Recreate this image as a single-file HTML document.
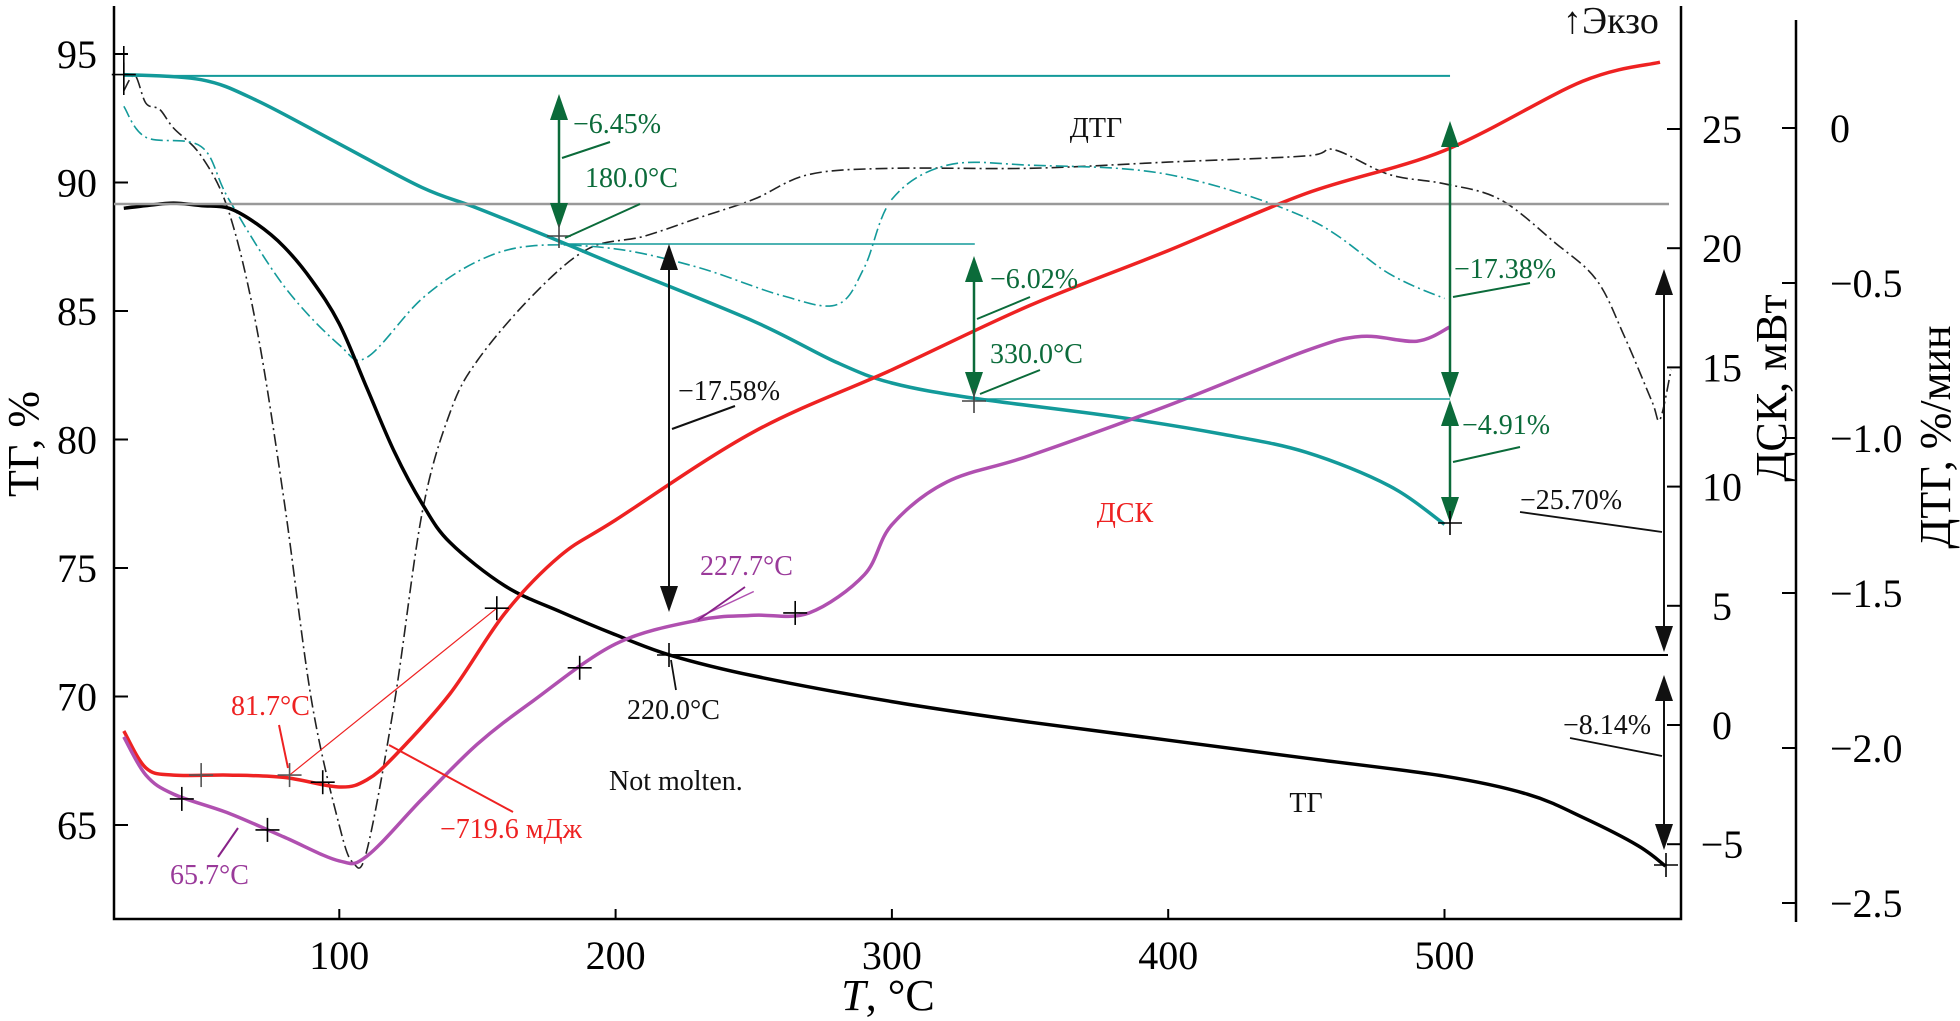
<!DOCTYPE html>
<html><head><meta charset="utf-8">
<style>
html,body{margin:0;padding:0;background:#fff;width:1960px;height:1021px;overflow:hidden}
svg text{font-family:"Liberation Serif","DejaVu Serif",serif}
</style></head>
<body>
<svg id="chart" width="1960" height="1021" viewBox="0 0 1960 1021" xmlns="http://www.w3.org/2000/svg">
<g id="axes"></g>
<g id="marks"></g>
<g id="ann"></g>
</svg>
<script>
// ---- data ----
const xTicks = [100,200,300,400,500];
const tgTicks = [95,90,85,80,75,70,65];
const dscTicks = [25,20,15,10,5,0,-5];
const dtgTicks = [0,-0.5,-1.0,-1.5,-2.0,-2.5];
const dtgTickLabels = ["0","−0.5","−1.0","−1.5","−2.0","−2.5"];
const dscTickLabels = ["25","20","15","10","5","0","−5"];

const tgBlackT = [22,30,40,50,60,70,80,90,100,110,120,130,140,160,180,200,220,250,300,350,400,450,500,530,550,570,580];
const tgBlackV = [89.0,89.1,89.2,89.1,89.0,88.4,87.5,86.2,84.5,82.0,79.5,77.5,76.0,74.3,73.3,72.4,71.6,70.8,69.8,69.0,68.3,67.6,66.9,66.2,65.3,64.2,63.4];

const tgTealT = [22,50,70,100,130,150,180,200,250,280,300,330,380,420,450,480,500];
const tgTealV = [94.2,94.0,93.2,91.5,89.8,89.0,87.7,86.8,84.6,83.0,82.2,81.6,80.9,80.2,79.5,78.2,76.7];

const dtgBlackT = [22,26,30,35,40,50,60,70,80,90,100,105,110,120,130,140,150,170,190,210,230,250,270,300,350,400,450,460,480,500,520,540,555,565,575,578,582];
const dtgBlackV = [0.12,0.17,0.08,0.06,0.0,-0.09,-0.27,-0.64,-1.2,-1.85,-2.25,-2.37,-2.33,-1.85,-1.24,-0.92,-0.75,-0.54,-0.39,-0.35,-0.29,-0.23,-0.15,-0.13,-0.13,-0.11,-0.09,-0.07,-0.15,-0.18,-0.23,-0.37,-0.49,-0.67,-0.88,-0.94,-0.78];

const dtgTealT = [22,30,50,60,80,100,110,130,150,170,200,230,260,280,290,300,320,350,400,450,480,500];
const dtgTealV = [0.07,-0.03,-0.06,-0.23,-0.51,-0.70,-0.74,-0.55,-0.43,-0.38,-0.39,-0.45,-0.54,-0.57,-0.45,-0.23,-0.12,-0.12,-0.15,-0.29,-0.47,-0.55];

const dscRedT = [22,30,40,60,80,100,110,120,140,160,180,200,250,300,350,400,450,500,550,578];
const dscRedV = [-0.25,-1.8,-2.1,-2.1,-2.2,-2.6,-2.3,-1.3,1.3,4.7,7.1,8.6,12.3,14.9,17.6,19.9,22.3,24.1,27.0,27.8];

const dscPurpleT = [22,30,40,60,80,100,110,130,150,170,200,230,250,270,290,300,320,350,400,450,470,490,502];
const dscPurpleV = [-0.5,-2.1,-2.9,-3.7,-4.7,-5.7,-5.5,-3.1,-0.8,1.0,3.4,4.4,4.6,4.7,6.3,8.4,10.2,11.3,13.4,15.7,16.3,16.1,16.7];

// ---- scales ----
const X0=114, XR=1681, YB=919, YT=6, DTGX=1796;
function sx(t){return 63+t*2.763;}
function syTG(v){return 54+(95-v)*25.7;}
function syDSC(v){return 725-v*23.84;}
function syDTG(v){return 128-v*310;}

const NS="http://www.w3.org/2000/svg";
function mk(tag,attrs,parent){const e=document.createElementNS(NS,tag);for(const k in attrs)e.setAttribute(k,attrs[k]);parent.appendChild(e);return e;}
const axes=document.getElementById('axes'), marks=document.getElementById('marks'), ann=document.getElementById('ann');

let e;
e=mk('path',{d:`M${X0},${YT} V${YB} H${XR} V${YT}`,fill:'none',stroke:'#000','stroke-width':2.5},axes);


e=mk('line',{x1:DTGX,y1:20,x2:DTGX,y2:922,stroke:'#000','stroke-width':2.5},axes);



xTicks.forEach(t=>{
  const x=sx(t);
  mk('line',{x1:x,y1:YB,x2:x,y2:YB-10,stroke:'#000','stroke-width':2},axes);
  const tx=mk('text',{x:x,y:YB+50,'font-size':40,'text-anchor':'middle'},axes);tx.textContent=t;
  
  
});
tgTicks.forEach(v=>{
  const y=syTG(v);
  mk('line',{x1:X0,y1:y,x2:X0+14,y2:y,stroke:'#000','stroke-width':2},axes);
  const tx=mk('text',{x:97,y:y+14,'font-size':40,'text-anchor':'end'},axes);tx.textContent=v;
  
  
});
dscTicks.forEach((v,i)=>{
  const y=syDSC(v);
  mk('line',{x1:XR,y1:y,x2:XR-14,y2:y,stroke:'#000','stroke-width':2},axes);
  const tx=mk('text',{x:1722,y:y+14,'font-size':40,'text-anchor':'middle'},axes);tx.textContent=dscTickLabels[i];
  
  
});
dtgTicks.forEach((v,i)=>{
  const y=syDTG(v);
  mk('line',{x1:DTGX,y1:y,x2:DTGX-14,y2:y,stroke:'#000','stroke-width':2},axes);
  const tx=mk('text',{x:1830,y:y+14,'font-size':40,'text-anchor':'start'},axes);tx.textContent=dtgTickLabels[i];
  
  
});
function title(txt,x,y,rot,name){
  const t=mk('text',{x:x,y:y,'font-size':44,'text-anchor':'middle',transform:rot?`rotate(-90 ${x} ${y})`:''},axes);
  t.textContent=txt;
  
  
  return t;
}
const xt=mk('text',{x:888,y:1010,'font-size':44,'text-anchor':'middle'},axes);
xt.innerHTML='<tspan font-style="italic">T</tspan>, °C';


title('ТГ, %',38,444,true,'tg-axis-title');
title('ДСК, мВт',1786,388,true,'dsc-axis-title');
title('ДТГ, %/мин',1950,437,true,'dtg-axis-title');

function ln(x1,y1,x2,y2,col,w,name,dash){
  const l=mk('line',{x1,y1,x2,y2,stroke:col,'stroke-width':w},ann);
  if(dash)l.setAttribute('stroke-dasharray',dash);
  
  
  return l;
}
ln(sx(22),syTG(94.15),sx(502),syTG(94.15),'#139a9a',2,'tg-start-baseline');
ln(X0,204,1669,204,'#999',2.5,'grey-baseline');
ln(sx(180),244,sx(330),244,'#139a9a',1.5,'step1-baseline');
ln(sx(330),399,sx(502),399,'#139a9a',1.5,'step2-baseline');
ln(sx(220),655,1668,655,'#000',2,'tg-220-baseline');

// smooth (Catmull-Rom) series path
function series(T,V,sy,col,w,name,dash){
  const P=T.map((t,i)=>[sx(t),sy(V[i])]);
  let d='M'+P[0][0].toFixed(1)+','+P[0][1].toFixed(1);
  for(let i=0;i<P.length-1;i++){
    const p0=P[i>0?i-1:i],p1=P[i],p2=P[i+1],p3=P[i+2<P.length?i+2:i+1];
    const c1=[p1[0]+(p2[0]-p0[0])/6,p1[1]+(p2[1]-p0[1])/6];
    const c2=[p2[0]-(p3[0]-p1[0])/6,p2[1]-(p3[1]-p1[1])/6];
    d+=` C${c1[0].toFixed(1)},${c1[1].toFixed(1)} ${c2[0].toFixed(1)},${c2[1].toFixed(1)} ${p2[0].toFixed(1)},${p2[1].toFixed(1)}`;
  }
  const p=mk('path',{d,fill:'none',stroke:col,'stroke-width':w,'stroke-linejoin':'round'},marks);
  if(dash)p.setAttribute('stroke-dasharray',dash);
  
  
}
series(dtgBlackT,dtgBlackV,syDTG,'#222',1.6,'dtg-black-line','12,4,2,4');
series(dtgTealT,dtgTealV,syDTG,'#139a9a',1.6,'dtg-teal-line','12,4,2,4');
series(tgTealT,tgTealV,syTG,'#139a9a',3.5,'tg-teal-line');
series(tgBlackT,tgBlackV,syTG,'#000',3.5,'tg-black-line');
series(dscRedT,dscRedV,syDSC,'#ee2222',3.5,'dsc-red-line');
series(dscPurpleT,dscPurpleV,syDSC,'#b050b0',3.5,'dsc-purple-line');

ln(sx(82),syDSC(-2.1),sx(157),syDSC(4.9),'#ee2222',1.2,'dsc-tangent-line');
ln(sx(228),syDSC(4.4),sx(250),syDSC(5.6),'#b050b0',1.5,'purple-tangent-line');

function arrow(x,y1,y2,col,name,w){
  ln(x,y1+12,x,y2-12,col,w||2.5,name);
  const a1=mk('path',{d:`M${x-9},${y1+26} L${x},${y1} L${x+9},${y1+26} Z`,fill:col},ann);
  
  
  const a2=mk('path',{d:`M${x-9},${y2-26} L${x},${y2} L${x+9},${y2-26} Z`,fill:col},ann);
  
  
}
const G='#0b6b3a';
arrow(559,94,229,G,'arrow-6-45');
arrow(974,256,398,G,'arrow-6-02');
arrow(1450,121,398,G,'arrow-17-38');
arrow(1450,400,523,G,'arrow-4-91');
arrow(669,244,612,'#111','arrow-17-58',2);
arrow(1664,269,652,'#111','arrow-25-70',2);
arrow(1664,675,850,'#111','arrow-8-14',2);

function cross(x,y,col,name){
  ln(x-12,y,x+12,y,col,1.6,name);
  ln(x,y-12,x,y+12,col,1.6,name);
}
cross(sx(22),syTG(94.2),'#000','cross-start');
ln(sx(22),46,sx(22),95,'#000',1.6,'start-marker');
cross(559,236,'#444','cross-180');
cross(974,401,'#444','cross-330');
cross(1450,523,'#000','cross-500');
cross(669,655,'#000','cross-220');
cross(1666,865,'#000','cross-580');
cross(sx(157),syDSC(4.9),'#000','cross-red-157');
cross(sx(50),syDSC(-2.1),'#555','cross-red-50');
cross(sx(82),syDSC(-2.1),'#555','cross-red-82');
cross(sx(94),syDSC(-2.4),'#000','cross-red-94');
cross(sx(43),syDSC(-3.1),'#000','cross-purple-43');
cross(sx(74),syDSC(-4.4),'#000','cross-purple-74');
cross(sx(187),syDSC(2.4),'#000','cross-purple-187');
cross(sx(265),syDSC(4.7),'#000','cross-purple-265');

ln(562,158,610,142,G,2,'leader-6-45');
ln(565,238,640,204,G,2,'leader-180');
ln(672,429,735,406,'#111',2,'leader-17-58');
ln(977,319,1030,297,G,2,'leader-6-02');
ln(980,394,1040,370,G,2,'leader-330');
ln(1453,297,1530,283,G,2,'leader-17-38');
ln(1453,462,1520,447,G,2,'leader-4-91');
ln(1520,512,1662,532,'#111',1.8,'leader-25-70');
ln(1570,738,1662,756,'#111',1.8,'leader-8-14');
ln(671,660,676,690,'#111',1.8,'leader-220');
ln(288,768,279,725,'#ee2222',2,'leader-81-7');
ln(389,745,513,812,'#ee2222',2,'leader-719');
ln(218,857,238,828,'#882288',2,'leader-65-7');
ln(698,620,745,587,'#882288',1.8,'leader-227-7');

function lab(txt,x,y,col,name,anchor,size){
  const t=mk('text',{x,y,'font-size':size||28,fill:col,'text-anchor':anchor||'start'},ann);
  t.textContent=txt;
  
  
}
lab('−6.45%',573,133,G,'label-6-45');
lab('180.0°C',585,187,G,'label-180');
lab('ДТГ',1096,137,'#111','label-dtg','middle');
lab('−17.58%',678,400,'#111','label-17-58');
lab('−6.02%',990,288,G,'label-6-02');
lab('330.0°C',990,363,G,'label-330');
lab('−17.38%',1454,278,G,'label-17-38');
lab('−4.91%',1462,434,G,'label-4-91');
lab('−25.70%',1520,509,'#111','label-25-70');
lab('ДСК',1125,522,'#ee2222','label-dsc','middle');
lab('227.7°C',700,575,'#9a3a9a','label-227-7');
lab('220.0°C',627,719,'#111','label-220');
lab('81.7°C',231,715,'#ee2222','label-81-7');
lab('Not molten.',609,790,'#111','label-not-molten');
lab('−719.6 мДж',440,838,'#ee2222','label-719');
lab('65.7°C',170,884,'#9a3a9a','label-65-7');
lab('ТГ',1306,812,'#111','label-tg','middle');
lab('−8.14%',1563,734,'#111','label-8-14');
lab('↑Экзо',1563,33,'#111','label-exo',null,38);
</script>
</body></html>
